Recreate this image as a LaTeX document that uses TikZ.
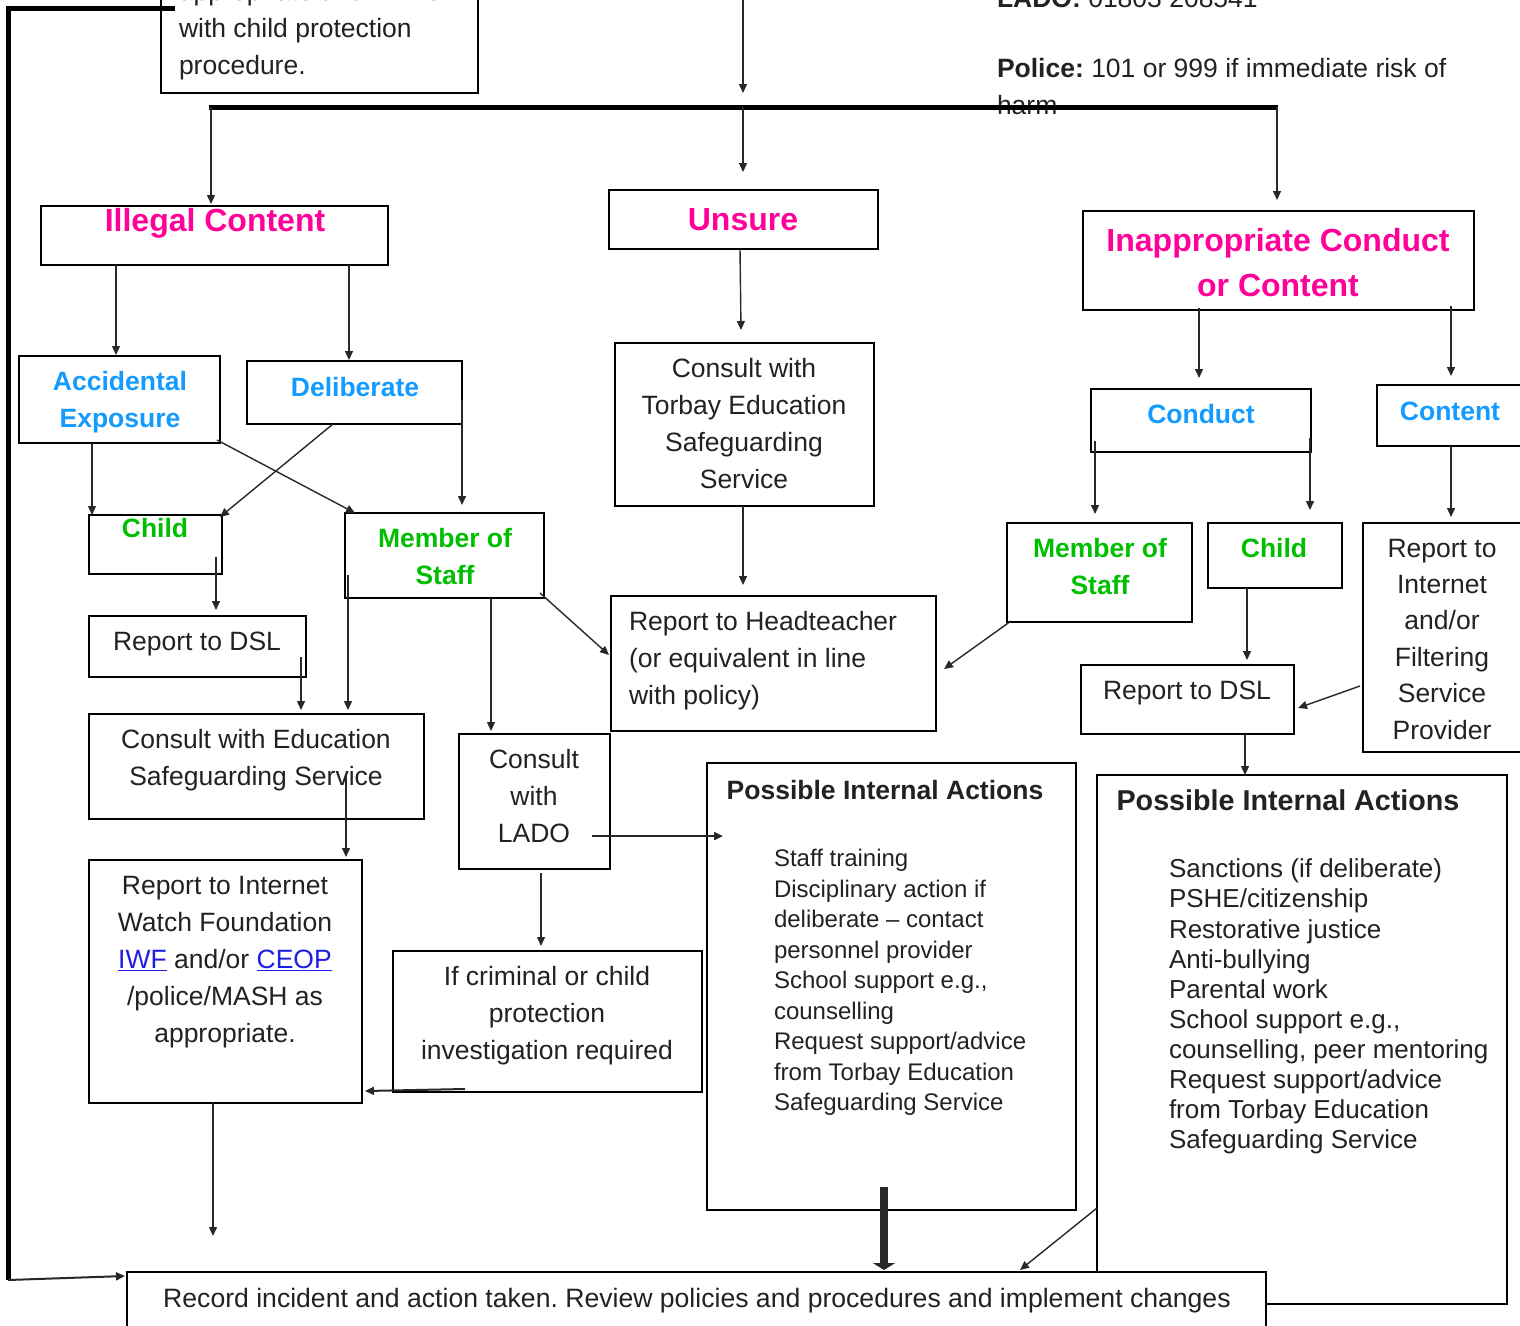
\documentclass[tikz,border=0pt]{standalone}
\usepackage{fontspec}
\setmainfont{Liberation Sans}
\usetikzlibrary{arrows.meta}
\frenchspacing
\definecolor{mag}{RGB}{255,0,153}
\definecolor{hblue}{RGB}{20,155,255}
\definecolor{hgreen}{RGB}{0,190,0}
\definecolor{tx}{RGB}{34,34,34}
\definecolor{lnk}{RGB}{30,30,230}
\definecolor{ln}{RGB}{40,40,40}
\newcommand\mybox[5]{\node[bx, anchor=north west, minimum width={#4-#2}, minimum height={#5-#3}] (#1) at (#2,#3) {};}
\begin{document}
\begin{tikzpicture}[x=1pt,y=-1pt,
 bx/.style={draw=black, line width=2pt, inner sep=0pt, outer sep=0pt, fill=white},
 txc/.style={inner sep=0pt, outer sep=0pt, text=tx, font=\fontsize{26.5}{37}\selectfont, align=center, anchor=north},
 txl/.style={txc, align=left, anchor=north west},
 hmag/.style={txc, text=mag, font=\bfseries\fontsize{32}{45}\selectfont},
 hblu/.style={txc, text=hblue, font=\bfseries\fontsize{26.5}{37}\selectfont},
 hgrn/.style={txc, text=hgreen, font=\bfseries\fontsize{26.5}{37}\selectfont},
 lst/.style={txl, font=\fontsize{24}{30.5}\selectfont},
 arr/.style={draw=ln, line width=1.4pt, -{Triangle[length=9pt,width=8pt]}},
 thk/.style={draw=black, line width=5pt}]
\useasboundingbox (0,0) rectangle (1520,1325);
\clip (0,0) rectangle (1520,1325);
% boxes
\mybox{tlb}{161}{-40}{478}{93}
\mybox{ill}{41}{206}{388}{265}
\mybox{uns}{609}{190}{878}{249}
\mybox{inap}{1083}{211}{1474}{310}
\mybox{acc}{19}{356}{220}{443}
\mybox{del}{247}{361}{462}{424}
\mybox{chL}{89}{515}{222}{574}
\mybox{msL}{345}{513}{544}{598}
\mybox{tor}{615}{343}{874}{506}
\mybox{head}{611}{596}{936}{731}
\mybox{dslL}{89}{616}{306}{677}
\mybox{ced}{89}{714}{424}{819}
\mybox{lado}{459}{734}{610}{869}
\mybox{iwf}{89}{860}{362}{1103}
\mybox{crim}{393}{951}{702}{1092}
\mybox{pia}{707}{763}{1076}{1210}
\mybox{pib}{1097}{775}{1507}{1304}
\mybox{rec}{127}{1272}{1266}{1345}
\mybox{con}{1091}{389}{1311}{452}
\mybox{cnt}{1377}{385}{1545}{446}
\mybox{msR}{1007}{523}{1192}{622}
\mybox{chR}{1208}{523}{1342}{588}
\mybox{rif}{1363}{523}{1545}{752}
\mybox{dslR}{1081}{665}{1294}{734}
% texts
\node[txl] (tlbt) at (179,-25.4) {\strut appropriate and in line\\with child protection\\procedure.};
\node[txc, anchor=base west] (ladot) at (997,8) {\textbf{LADO:} 01803 208541};
\node[txl] (polt) at (997,51.6) {\strut\textbf{Police:} 101 or 999 if immediate risk of\\harm};
\node[hmag] (illt) at (215,200) {\strut Illegal Content};
\node[hmag] (unst) at (743,199) {\strut Unsure};
\node[hmag] (inapt) at (1278,220) {\strut Inappropriate Conduct\\or Content};
\node[hblu] (acct) at (120,364.6) {\strut Accidental\\Exposure};
\node[hblu] (delt) at (355,370.6) {\strut Deliberate};
\node[hgrn] (chLt) at (155,511.6) {\strut Child};
\node[hgrn] (msLt) at (445,521.6) {\strut Member of\\Staff};
\node[txc] (tort) at (744,351.6) {\strut Consult with\\Torbay Education\\Safeguarding\\Service};
\node[txl] (headt) at (629,604.6) {\strut Report to Headteacher\\(or equivalent in line\\with policy)};
\node[txc] (dslLt) at (197,624.6) {\strut Report to DSL};
\node[txc] (cedt) at (256,722.6) {\strut Consult with Education\\Safeguarding Service};
\node[txc] (ladt) at (534,742.6) {\strut Consult\\with\\LADO};
\node[txc] (iwft) at (225,868.6) {\strut Report to Internet\\Watch Foundation\\{\color{lnk}\underline{IWF}} and/or {\color{lnk}\underline{CEOP}}\\/police/MASH as\\appropriate.};
\node[txc] (crimt) at (547,959.6) {\strut If criminal or child\\protection\\investigation required};
\node[txc, font=\bfseries\fontsize{26.5}{37}\selectfont] (piat) at (885,773.6) {\strut Possible Internal Actions};
\node[lst] (pial) at (774,845.2) {\strut Staff training\\Disciplinary action if\\deliberate -- contact\\personnel provider\\School support e.g.,\\counselling\\Request support/advice\\from Torbay Education\\Safeguarding Service};
\node[txc, font=\bfseries\fontsize{28.7}{37}\selectfont] (pibt) at (1288,784.6) {\strut Possible Internal Actions};
\node[lst, font=\fontsize{26}{30.1}\selectfont] (pibl) at (1169,856.8) {\strut Sanctions (if deliberate)\\PSHE/citizenship\\Restorative justice\\Anti-bullying\\Parental work\\School support e.g.,\\counselling, peer mentoring\\Request support/advice\\from Torbay Education\\Safeguarding Service};
\node[txc, font=\fontsize{26.6}{37}\selectfont] (rect) at (697,1281.6) {\strut Record incident and action taken. Review policies and procedures and implement changes};
\node[hblu] (cont) at (1201,397.6) {\strut Conduct};
\node[hblu] (cntt) at (1450,394.6) {\strut Content};
\node[hgrn] (msRt) at (1100,531.6) {\strut Member of\\Staff};
\node[hgrn] (chRt) at (1274,531.6) {\strut Child};
\node[txc, font=\fontsize{26.5}{36.4}\selectfont] (rift) at (1442,531.6) {\strut Report to\\Internet\\and/or\\Filtering\\Service\\Provider};
\node[txc] (dslRt) at (1187,673.6) {\strut Report to DSL};
% coordinates
\coordinate (tin) at (743,-5);
\coordinate (hl) at (209,107);
\coordinate (hmid) at (743,107);
\coordinate (hr) at (1278,107);
\coordinate (lc1) at (8,8);
\coordinate (lc2) at (8,1280);
\coordinate (iwfe) at (213,1236);
% thick lines
\draw[thk] (hl) -- (hr);
\draw[thk] ([xshift=14pt,yshift=-48pt]tlb.north west) -- (lc1) -- (lc2);
\draw[arr, line width=2pt] (lc2) -- ([xshift=-2pt,yshift=-4pt]rec.north west);
% arrows
\draw[arr] (tin) -- ([yshift=14pt]hmid);
\draw[arr] ([xshift=2pt]hl) -- ([xshift=170pt,yshift=2pt]ill.north west);
\draw[arr] (hmid) -- ([xshift=134pt,yshift=18pt]uns.north west);
\draw[arr] ([xshift=-1pt]hr) -- ([xshift=194pt,yshift=11pt]inap.north west);
\draw[arr] ([xshift=75pt]ill.south west) -- ([xshift=97pt,yshift=1pt]acc.north west);
\draw[arr] ([xshift=308pt]ill.south west) -- ([xshift=102pt,yshift=1pt]del.north west);
\draw[arr] ([xshift=73pt]acc.south west) -- ([xshift=3pt]chL.north west);
\draw[arr] ([xshift=-3pt,yshift=3pt]acc.south east) -- ([xshift=10pt]msL.north west);
\draw[arr] ([xshift=86pt]del.south west) -- ([xshift=-2pt,yshift=-2pt]chL.north east);
\draw[arr] ([yshift=24pt]del.south east) -- ([xshift=117pt,yshift=8pt]msL.north west);
\draw[arr] ([xshift=-6pt,yshift=17pt]chL.south east) -- ([xshift=127pt,yshift=6pt]dslL.north west);
\draw[arr] ([xshift=-5pt,yshift=20pt]dslL.south east) -- ([xshift=212pt,yshift=4pt]ced.north west);
\draw[arr] ([xshift=3pt,yshift=23pt]msL.south west) -- ([xshift=259pt,yshift=4pt]ced.north west);
\draw[arr] ([xshift=146pt]msL.south west) -- ([xshift=32pt,yshift=3pt]lado.north west);
\draw[arr] ([xshift=-4pt,yshift=5pt]msL.south east) -- ([xshift=-2pt,yshift=-59pt]head.north west);
\draw[arr] ([xshift=257pt,yshift=-61pt]ced.north west) -- ([xshift=257pt,yshift=3pt]iwf.north west);
\draw[arr, line width=2.2pt] ([xshift=133pt,yshift=-102pt]lado.north west) -- ([xshift=16pt,yshift=-73pt]pia.north west);
\draw[arr] ([xshift=82pt,yshift=-4pt]lado.south west) -- ([xshift=148pt,yshift=5pt]crim.north west);
\draw[arr, line width=2pt] ([xshift=72pt,yshift=3pt]crim.south west) -- ([xshift=3pt,yshift=12pt]iwf.south east);
\draw[arr] ([xshift=124pt]iwf.south west) -- (iwfe);
\draw[draw=ln, line width=8pt, -{Triangle[length=7pt,width=22pt]}] ([xshift=177pt,yshift=23pt]pia.south west) -- ([xshift=757pt,yshift=2pt]rec.north west);
\draw[arr] ([yshift=96pt]pib.south west) -- ([xshift=893pt,yshift=2pt]rec.north west);
\draw[arr] ([xshift=131pt]uns.south west) -- ([xshift=126pt,yshift=13pt]tor.north west);
\draw[arr] ([xshift=128pt]tor.south west) -- ([xshift=132pt,yshift=11pt]head.north west);
\draw[arr] ([xshift=4pt,yshift=1pt]msR.south west) -- ([xshift=8pt,yshift=-73pt]head.north east);
\draw[arr] ([xshift=116pt,yshift=2pt]inap.south west) -- ([xshift=108pt,yshift=11pt]con.north west);
\draw[arr] ([xshift=368pt,yshift=4pt]inap.south west) -- ([xshift=74pt,yshift=9pt]cnt.north west);
\draw[arr] ([xshift=4pt,yshift=11pt]con.south west) -- ([xshift=88pt,yshift=9pt]msR.north west);
\draw[arr] ([xshift=-1pt,yshift=14pt]con.south east) -- ([xshift=102pt,yshift=13pt]chR.north west);
\draw[arr] ([xshift=74pt]cnt.south west) -- ([xshift=88pt,yshift=6pt]rif.north west);
\draw[arr] ([xshift=39pt]chR.south west) -- ([xshift=166pt,yshift=5pt]dslR.north west);
\draw[arr] ([xshift=-3pt,yshift=-163pt]rif.north west) -- ([xshift=4pt,yshift=26pt]dslR.south east);
\draw[arr] ([xshift=164pt]dslR.south west) -- ([xshift=148pt]pib.north west);
\end{tikzpicture}
\end{document}
